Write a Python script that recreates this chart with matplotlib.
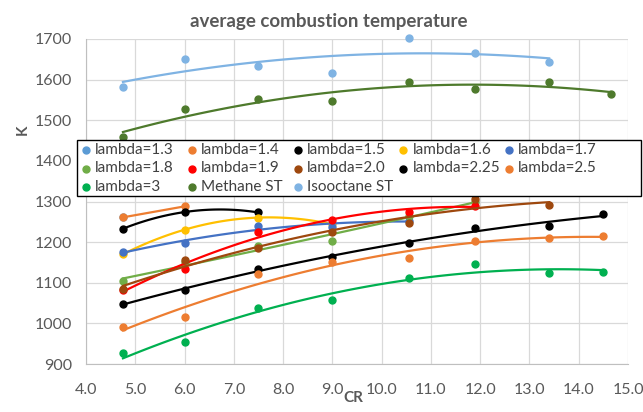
import numpy as np
import matplotlib
matplotlib.use("Agg")
import matplotlib.pyplot as plt
from matplotlib.lines import Line2D
from matplotlib.patches import Rectangle

plt.rcParams["font.family"] = ["Lato", "DejaVu Sans"]

# compression ratios used for the lambda sweeps
cr = [4.75, 6.0, 7.5, 9.0, 10.55, 11.9, 13.4, 14.5]

# average combustion temperature [K] per lambda, points start at the lowest CR
lambda_labels = ["lambda=1.3", "lambda=1.4", "lambda=1.5", "lambda=1.6", "lambda=1.7",
                 "lambda=1.8", "lambda=1.9", "lambda=2.0", "lambda=2.25", "lambda=2.5",
                 "lambda=3"]
t_13 = [1263]
t_14 = [1261, 1288]
t_15 = [1233, 1274, 1273]
t_16 = [1170, 1231, 1260, 1244]
t_17 = [1175, 1199, 1240, 1238, 1253]
t_18 = [1104, 1150, 1190, 1203, 1265, 1300]
t_19 = [1082, 1134, 1226, 1254, 1275, 1290]
t_20 = [1084, 1156, 1185, 1224, 1248, 1305, 1291]
t_225 = [1048, 1081, 1134, 1164, 1199, 1234, 1240, 1269]
t_25 = [990, 1015, 1121, 1150, 1160, 1203, 1209, 1216]
t_3 = [927, 953, 1037, 1058, 1111, 1147, 1125, 1127]

# stoichiometric reference cases
cr_methane = [4.75, 6.0, 7.5, 9.0, 10.55, 11.9, 13.4, 14.65]
t_methane = [1458, 1528, 1552, 1547, 1594, 1576, 1595, 1565]
cr_isooctane = [4.75, 6.0, 7.5, 9.0, 10.55, 11.9, 13.4]
t_isooctane = [1583, 1651, 1634, 1616, 1703, 1665, 1644]

lambda_series = [t_13, t_14, t_15, t_16, t_17, t_18, t_19, t_20, t_225, t_25, t_3]
lambda_colors = ["#5B9BD5", "#ED7D31", "#000000", "#FFC000", "#4472C4", "#70AD47",
                 "#FF0000", "#9E480E", "#000000", "#ED7D31", "#00B050"]
methane_color = "#4E7A2C"
isooctane_color = "#7FB3E3"

W, H = 643, 412


def plot_with_trend(ax, x, y, color):
    x = np.asarray(x)
    y = np.asarray(y)
    ax.plot(x, y, "o", color=color, markersize=5, zorder=3, clip_on=False)
    if len(x) > 1:
        # polynomial trendline (order 2, or straight for two points)
        coef = np.polyfit(x, y, min(2, len(x) - 1))
        xs = np.linspace(x.min(), x.max(), 100)
        ax.plot(xs, np.polyval(coef, xs), "-", color=color, lw=1.6, zorder=3)


fig = plt.figure(figsize=(W / 100, H / 100), dpi=100)
ax = fig.add_axes([86 / W, 1 - 364 / H, (628 - 86) / W, (364 - 39) / H])

for vals, color in zip(lambda_series, lambda_colors):
    plot_with_trend(ax, cr[:len(vals)], vals, color)
plot_with_trend(ax, cr_methane, t_methane, methane_color)
plot_with_trend(ax, cr_isooctane, t_isooctane, isooctane_color)

ax.set_xlim(4.0, 15.0)
ax.set_ylim(900, 1700)
ax.set_xticks(np.arange(4.0, 15.01, 1.0))
ax.set_xticklabels([f"{v:.1f}" for v in np.arange(4.0, 15.01, 1.0)])
ax.set_yticks(np.arange(900, 1701, 100))
ax.grid(True, color="#D9D9D9", lw=0.9)
ax.set_axisbelow(True)
for side in ["top", "right"]:
    ax.spines[side].set_visible(False)
for side in ["left", "bottom"]:
    ax.spines[side].set_color("#BFBFBF")
ax.tick_params(axis="x", length=0, labelsize=11.5, labelcolor="#595959", pad=14)
ax.tick_params(axis="y", length=0, labelsize=11.5, labelcolor="#595959", pad=10)

fig.text(329 / W, 1 - 22 / H, "average combustion temperature", ha="center",
         va="center", fontsize=13.5, fontweight="bold", color="#595959")
fig.text(23 / W, 1 - 130 / H, "K", ha="center", va="center", rotation=90,
         fontsize=11, fontweight="bold", color="#595959")
fig.text(353 / W, 1 - 398 / H, "CR", ha="center", va="center",
         fontsize=11, fontweight="bold", color="#595959")

# legend laid out as a fixed grid: 5 equal columns, filled row by row
labels = lambda_labels + ["Methane ST", "Isooctane ST"]
colors = lambda_colors + [methane_color, isooctane_color]
box = Rectangle((77 / W, 1 - 196 / H), (641 - 77) / W, 56 / H, transform=fig.transFigure,
                facecolor="white", edgecolor="black", lw=1.0, zorder=10)
fig.add_artist(box)
col_w, row_h = 105.8, 18.5
for i, (lab, c) in enumerate(zip(labels, colors)):
    row, col = divmod(i, 5)
    x0 = 86 + col * col_w
    y0 = 150 + row * row_h
    fig.add_artist(Line2D([x0 / W], [1 - y0 / H], marker="o", ls="none", color=c,
                          markersize=5, transform=fig.transFigure, zorder=11))
    fig.text((x0 + 9) / W, 1 - y0 / H, lab, ha="left", va="center", fontsize=11,
             color="#404040", zorder=11)

fig.savefig("out.png", dpi=100)
